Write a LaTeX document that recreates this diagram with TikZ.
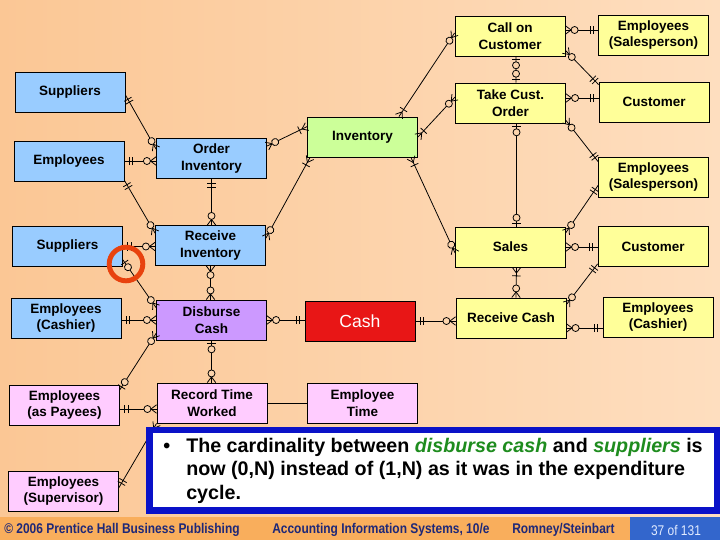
\documentclass[tikz,border=0pt]{standalone}
\usepackage{fontspec}
\setmainfont{Liberation Sans}
\newfontfamily\footfont[FakeStretch=0.85]{Liberation Sans}
\usetikzlibrary{calc,decorations.markings}

\definecolor{bgleft}{RGB}{251,199,149}
\definecolor{bgright}{RGB}{254,222,191}
\definecolor{bgmid}{RGB}{252,212,172}
\definecolor{agentblue}{RGB}{153,204,255}
\definecolor{eventpurple}{RGB}{204,153,255}
\definecolor{payroll}{RGB}{255,204,255}
\definecolor{resgreen}{RGB}{204,255,153}
\definecolor{revyellow}{RGB}{255,255,153}
\definecolor{cashred}{RGB}{232,22,22}
\definecolor{notegreen}{RGB}{30,140,30}
\definecolor{noteblue}{RGB}{10,18,200}
\definecolor{footbar}{RGB}{249,174,92}
\definecolor{footnavy}{RGB}{30,40,120}
\definecolor{pageblue}{RGB}{51,102,204}
\definecolor{pagetext}{RGB}{225,235,255}
\definecolor{ringred}{RGB}{232,66,14}

% cardinality marks, box edge at the origin, line along +x
\newcommand\ernone{}
\newcommand\eroneone{\draw (3.5pt,-3pt) -- (3.5pt,3pt) (5.8pt,-3pt) -- (5.8pt,3pt);}
\newcommand\erzone{\draw (2.2pt,-3pt) -- (2.2pt,3pt); \draw[fill=bgmid] (6.3pt,0) circle (2.5pt);}
\newcommand\erzmany{\draw (0,3pt) -- (4pt,0) -- (0,-3pt); \draw[fill=bgmid] (6.5pt,0) circle (2.5pt);}
\newcommand\eromany{\draw (0,3pt) -- (4pt,0) -- (0,-3pt); \draw (6pt,-3pt) -- (6pt,3pt);}

\tikzset{
  ent/.style={draw, line width=0.6pt, minimum width=2.75cm, minimum height=1cm, inner sep=1pt,
    align=center, font=\fontsize{9.6}{12}\selectfont\bfseries},
  rel/.style 2 args={line width=0.55pt, postaction={decorate, decoration={markings,
    mark=at position 0 with {\csname er#1\endcsname},
    mark=at position 1 with {\begin{scope}[xscale=-1]\csname er#2\endcsname\end{scope}}}}},
  foot/.style={anchor=west, inner sep=0, text=footnavy, font=\footfont\bfseries\fontsize{10}{12}\selectfont},
}

\begin{document}
\begin{tikzpicture}[x=0.025cm,y=-0.025cm]
	\shade[left color=bgleft, right color=bgright] (0,0) rectangle (720,517);
	\useasboundingbox (0,0) rectangle (720,540);

	\node[ent, fill=agentblue] (sup1) at (70,92) {Suppliers};
	\node[ent, fill=agentblue] (emp1) at (69,161) {Employees};
	\node[ent, fill=agentblue] (ordinv) at (211.5,158.5) {Order\\Inventory};
	\node[ent, fill=agentblue] (sup2) at (67.5,246.5) {Suppliers};
	\node[ent, fill=agentblue] (recinv) at (210.5,245.5) {Receive\\Inventory};
	\node[ent, fill=agentblue] (empc1) at (66,318) {Employees\\(Cashier)};
	\node[ent, fill=eventpurple] (disb) at (211.5,320) {Disburse\\Cash};
	\node[ent, fill=payroll] (emppay) at (64.5,405) {Employees\\(as Payees)};
	\node[ent, fill=payroll] (rectime) at (212,403) {Record Time\\Worked};
	\node[ent, fill=payroll] (empsup) at (63.5,491) {Employees\\(Supervisor)};
	\node[ent, fill=payroll] (emptime) at (362.5,403) {Employee\\Time};
	\node[ent, fill=cashred, text=white, font=\fontsize{12.5}{15}\selectfont] (cash) at (360,321) {Cash};
	\node[ent, fill=resgreen] (inv) at (362.5,137) {Inventory};
	\node[ent, fill=revyellow] (call) at (510,36) {Call on\\Customer};
	\node[ent, fill=revyellow] (emps1) at (653.5,35) {Employees\\(Salesperson)};
	\node[ent, fill=revyellow] (take) at (510.5,103) {Take Cust.\\Order};
	\node[ent, fill=revyellow] (cust1) at (654,102) {Customer};
	\node[ent, fill=revyellow] (emps2) at (653.5,177) {Employees\\(Salesperson)};
	\node[ent, fill=revyellow] (sales) at (510.5,247) {Sales};
	\node[ent, fill=revyellow] (cust2) at (653,246.5) {Customer};
	\node[ent, fill=revyellow] (reccash) at (511,318) {Receive Cash};
	\node[ent, fill=revyellow] (empc2) at (658,317) {Employees\\(Cashier)};

	\draw[rel={oneone}{zmany}] ($(sup1.east)+(0,3)$) -- ($(ordinv.north west)+(0,11)$);
	\draw[rel={oneone}{zmany}] (emp1.east) -- (emp1.east -| ordinv.west);
	\draw[rel={oneone}{zmany}] ($(emp1.south east)+(0,-1)$) -- ($(recinv.north west)+(0,8)$);
	\draw[rel={oneone}{zmany}] (ordinv.south) -- (ordinv.south |- recinv.north);
	\draw[rel={oneone}{zmany}] (sup2.east) -- (sup2.east -| recinv.west);
	\draw[rel={zone}{zmany}] ($(sup2.south east)+(0,-7)$) -- ($(disb.north west)+(0,8)$);
	\draw[rel={zmany}{zmany}] (recinv.south) -- (recinv.south |- disb.north);
	\draw[rel={oneone}{zmany}] (disb.west -| empc1.east) -- (disb.west);
	\draw[rel={zmany}{oneone}] (disb.east) -- (disb.east -| cash.west);
	\draw[rel={oneone}{zmany}] (cash.east) -- (cash.east -| reccash.west);
	\draw[rel={zone}{zmany}] (disb.south) -- (disb.south |- rectime.north);
	\draw[rel={zmany}{zone}] ($(disb.south west)+(0,-7)$) -- ($(emppay.north east)+(0,5)$);
	\draw[rel={oneone}{zmany}] ($(emppay.east)+(0,4)$) -- ($(rectime.west)+(0,6)$);
	\draw[rel={oneone}{zmany}] ($(empsup.north east)+(0,17)$) -- (rectime.south west);
	\draw[line width=0.55pt] (rectime.east) -- (rectime.east -| emptime.west);

	\draw[rel={zmany}{omany}] ($(ordinv.north east)+(0,8)$) -- ($(inv.north west)+(0,10)$);
	\draw[rel={zmany}{omany}] ($(recinv.north east)+(0,13)$) -- ($(inv.south west)+(3,0)$);
	\draw[rel={omany}{zmany}] ($(inv.north east)+(-19,0)$) -- ($(call.west)+(0,-3)$);
	\draw[rel={omany}{zmany}] (inv.east) -- ($(take.west)+(0,-6)$);
	\draw[rel={omany}{zmany}] ($(inv.south east)+(-7,0)$) -- ($(sales.west)+(0,6)$);

	\draw[rel={zmany}{oneone}] ($(call.east)+(0,-6)$) -- ($(emps1.west)+(0,-5)$);
	\draw[rel={zone}{zone}] ($(call.south)+(6,0)$) -- ($(take.north)+(5.5,0)$);
	\draw[rel={zmany}{oneone}] ($(call.south east)+(0,-6)$) -- ($(cust1.north west)+(0,3)$);
	\draw[rel={zmany}{oneone}] ($(take.east)+(0,-5)$) -- ($(cust1.west)+(0,-4)$);
	\draw[rel={zone}{zone}] ($(take.south)+(6,0)$) -- ($(sales.north)+(6,0)$);
	\draw[rel={zmany}{oneone}] ($(take.south east)+(0,-3)$) -- ($(emps2.north west)+(0,5)$);
	\draw[rel={zmany}{oneone}] ($(sales.north east)+(0,6)$) -- ($(emps2.south west)+(0,-12)$);
	\draw[rel={zmany}{oneone}] (sales.east) -- (sales.east -| cust2.west);
	\draw[rel={omany}{zmany}] ($(sales.south)+(6,0)$) -- ($(reccash.north)+(5,0)$);
	\draw[rel={zmany}{oneone}] ($(reccash.north east)+(0,7)$) -- ($(cust2.south west)+(0,-3)$);
	\draw[rel={zmany}{oneone}] ($(reccash.east)+(0,10)$) -- ($(empc2.west)+(0,11)$);

	\draw[ringred, line width=3.5pt] (126,264) circle[radius=0.42cm];

	\draw[noteblue, fill=white, line width=4.3pt] (149.5,430) rectangle (717,510.5);
	\node[anchor=north west, inner sep=0, font=\fontsize{14}{17}\selectfont\bfseries] (dot) at (163,435) {\strut\textbullet};
	\node[anchor=north west, inner sep=0, align=left, font=\fontsize{14}{17}\selectfont\bfseries] (note) at (186,435)
		{\strut The cardinality between \textcolor{notegreen}{\itshape disburse cash} and \textcolor{notegreen}{\itshape suppliers} is\\
		now (0,N) instead of (1,N) as it was in the expenditure\\
		cycle.};

	\fill[footbar] (0,517) rectangle (720,540);
	\fill[pageblue] (630,517) rectangle (720,540);
	\node[foot] (copy) at (4,530) {\textcopyright{} 2006 Prentice Hall Business Publishing};
	\node[foot] (book) at (272,530) {Accounting Information Systems, 10/e};
	\node[foot] (auth) at (512,530) {Romney/Steinbart};
	\node[inner sep=0, text=pagetext, font=\footfont\fontsize{10}{12}\selectfont] (page) at (676,530) {37 of 131};
\end{tikzpicture}
\end{document}
